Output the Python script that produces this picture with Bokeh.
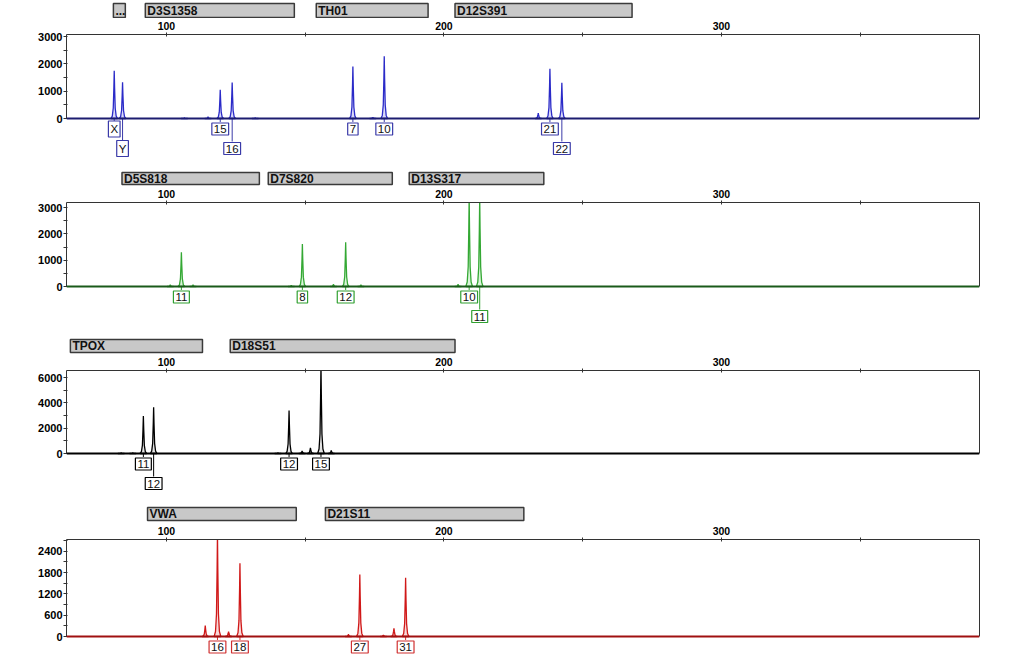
from bokeh.plotting import figure
from bokeh.layouts import column
from bokeh.models import Range1d, FixedTicker, LinearAxis, Span
from bokeh.core.properties import value
from bokeh.embed import file_html
from bokeh.resources import INLINE

# ---------------- data ----------------
X_START, X_END = 64, 393
size_ticks = [100, 200, 300]
size_minor_ticks = [150, 250, 350]

# Panel 1 (blue dye)
p1_loci = ["...", "D3S1358", "TH01", "D12S391"]
p1_loci_start = [80.9, 92.4, 154.0, 204.0]
p1_loci_end = [85.2, 146.1, 194.3, 267.8]
p1_peak_bp = [81.2, 84.2, 106.5, 115.0, 119.4, 123.7, 132.0, 167.2, 174.4, 178.5, 234.0, 238.2, 242.5]
p1_peak_rfu = [1750, 1330, 30, 60, 1050, 1320, 30, 1905, 40, 2275, 200, 1820, 1305]
p1_allele = ["X", "Y", "15", "16", "7", "10", "21", "22"]
p1_allele_bp = [81.2, 84.2, 119.4, 123.7, 167.2, 178.5, 238.2, 242.5]
p1_allele_row = [1, 2, 1, 2, 1, 1, 1, 2]
p1_yticks = [0, 1000, 2000, 3000]
p1_yminor = [500, 1500, 2500]
p1_ymax = 3074

# Panel 2 (green dye)
p2_loci = ["D5S818", "D7S820", "D13S317"]
p2_loci_start = [84.0, 136.7, 187.5]
p2_loci_end = [133.5, 181.4, 236.0]
p2_peak_bp = [101.4, 105.4, 109.6, 145.0, 149.0, 160.2, 164.6, 170.1, 205.1, 209.1, 212.9]
p2_peak_rfu = [60, 1300, 60, 40, 1615, 80, 1680, 60, 80, 3400, 3350]
p2_allele = ["11", "8", "12", "10", "11"]
p2_allele_bp = [105.4, 149.0, 164.6, 209.1, 212.9]
p2_allele_row = [1, 1, 1, 1, 2]
p2_yticks = [0, 1000, 2000, 3000]
p2_yminor = [500, 1500, 2500]
p2_ymax = 3190

# Panel 3 (black dye)
p3_loci = ["TPOX", "D18S51"]
p3_loci_start = [65.4, 123.0]
p3_loci_end = [113.0, 204.0]
p3_peak_bp = [83.7, 87.9, 91.7, 95.4, 140.2, 144.2, 148.9, 151.9, 155.7, 159.4]
p3_peak_rfu = [60, 60, 2950, 3660, 60, 3400, 200, 450, 7000, 250]
p3_allele = ["11", "12", "12", "15"]
p3_allele_bp = [91.7, 95.4, 144.2, 155.7]
p3_allele_row = [1, 2, 1, 1]
p3_yticks = [0, 2000, 4000, 6000]
p3_yminor = [1000, 3000, 5000]
p3_ymax = 6553

# Panel 4 (red dye)
p4_loci = ["VWA", "D21S11"]
p4_loci_start = [93.2, 157.3]
p4_loci_end = [146.8, 228.8]
p4_peak_bp = [114.0, 118.4, 122.4, 126.5, 165.6, 169.7, 178.2, 182.0, 186.2]
p4_peak_rfu = [310, 2900, 140, 2060, 60, 1745, 40, 230, 1650]
p4_allele = ["16", "18", "27", "31"]
p4_allele_bp = [118.4, 126.5, 169.7, 186.2]
p4_allele_row = [1, 1, 1, 1]
p4_yticks = [0, 600, 1200, 1800, 2400]
p4_yminor = [300, 900, 1500, 2100, 2700]
p4_ymax = 2729

# ---------------- style / layout ----------------
W = 1010
BL, BR = 66, 31
FONT = value("Liberation Sans")
# peak outline template (relative offset in bp, relative height)
TPL_DX = [-1.2, -0.7, -0.35, -0.13, 0.0, 0.13, 0.35, 0.7, 1.2]
TPL_FY = [0.0, 0.05, 0.22, 0.65, 1.0, 0.65, 0.22, 0.05, 0.0]

panels = [
    dict(loci=p1_loci, ls=p1_loci_start, le=p1_loci_end, pb=p1_peak_bp, pr=p1_peak_rfu,
         al=p1_allele, ab=p1_allele_bp, ar=p1_allele_row, yt=p1_yticks, ym=p1_yminor, top=p1_ymax,
         hh=18, bar=(1, 15), bt=16, plot=84, lab=40, bb=12,
         line="#2b2bc8", fill="#c0c0f2", base="#1c1c70", box="#3a3aa8"),
    dict(loci=p2_loci, ls=p2_loci_start, le=p2_loci_end, pb=p2_peak_bp, pr=p2_peak_rfu,
         al=p2_allele, ab=p2_allele_bp, ar=p2_allele_row, yt=p2_yticks, ym=p2_yminor, top=p2_ymax,
         hh=16, bar=(2, 14), bt=16, plot=84, lab=40, bb=11,
         line="#34a834", fill="#c0ecc0", base="#1a5a1a", box="#30a030"),
    dict(loci=p3_loci, ls=p3_loci_start, le=p3_loci_end, pb=p3_peak_bp, pr=p3_peak_rfu,
         al=p3_allele, ab=p3_allele_bp, ar=p3_allele_row, yt=p3_yticks, ym=p3_yminor, top=p3_ymax,
         hh=17, bar=(2, 15), bt=16, plot=83, lab=40, bb=12,
         line="#000000", fill="#d0d0d0", base="#000000", box="#000000"),
    dict(loci=p4_loci, ls=p4_loci_start, le=p4_loci_end, pb=p4_peak_bp, pr=p4_peak_rfu,
         al=p4_allele, ab=p4_allele_bp, ar=p4_allele_row, yt=p4_yticks, ym=p4_yminor, top=p4_ymax,
         hh=17, bar=(2, 15), bt=17, plot=97, lab=24, bb=6,
         line="#d01818", fill="#f2c0c0", base="#a01010", box="#d03030"),
]

figs = []
for P in panels:
    xr = Range1d(X_START, X_END)
    # ---- locus header ----
    h = figure(width=W, height=P["hh"], x_range=xr, y_range=Range1d(0, P["hh"]),
               x_axis_type=None, y_axis_type=None, toolbar_location=None,
               output_backend="svg", min_border_left=BL, min_border_right=BR,
               min_border_top=0, min_border_bottom=0)
    h.outline_line_color = None
    h.grid.visible = False
    b0, b1 = P["bar"]
    h.quad(left=P["ls"], right=P["le"], bottom=b0, top=b1,
           fill_color="#c8c8c8", line_color="#3a3a3a", line_width=1.5)
    h.text(x=P["ls"], y=(b0 + b1) / 2, text=P["loci"], x_offset=2,
           text_baseline="middle", text_align="left", text_font=FONT,
           text_font_style="bold", text_font_size="12px", text_color="#111111")
    figs.append(h)

    # ---- main trace ----
    top = P["top"]
    scale = top / P["plot"]          # data units per pixel
    ymin = -P["lab"] * scale
    fh = P["bt"] + P["plot"] + P["lab"] + P["bb"]
    p = figure(width=W, height=fh, x_range=xr, y_range=Range1d(ymin, top),
               x_axis_location="above", toolbar_location=None, output_backend="svg",
               min_border_left=BL, min_border_right=BR,
               min_border_top=P["bt"], min_border_bottom=P["bb"])
    p.outline_line_color = None
    p.grid.visible = False

    xa = p.xaxis[0]
    xa.ticker = FixedTicker(ticks=size_ticks, minor_ticks=size_minor_ticks)
    xa.major_label_text_font = "Liberation Sans"
    xa.major_label_text_font_style = "bold"
    xa.major_label_text_font_size = "10.5px"
    xa.major_label_text_color = "#000000"
    xa.major_label_standoff = 3
    xa.major_tick_in = 2
    xa.major_tick_out = 2
    xa.minor_tick_in = 2
    xa.minor_tick_out = 2
    xa.axis_line_color = "#333333"
    xa.major_tick_line_color = "#333333"
    xa.minor_tick_line_color = "#333333"

    ya = p.yaxis[0]
    ya.bounds = (0, top)
    ya.ticker = FixedTicker(ticks=P["yt"], minor_ticks=P["ym"])
    ya.major_label_text_font = "Liberation Sans"
    ya.major_label_text_font_style = "bold"
    ya.major_label_text_font_size = "11px"
    ya.major_label_text_color = "#000000"
    ya.major_label_standoff = 1
    ya.major_tick_in = 1
    ya.major_tick_out = 3
    ya.minor_tick_in = 1
    ya.minor_tick_out = 3
    ya.axis_line_color = "#333333"
    ya.major_tick_line_color = "#333333"
    ya.minor_tick_line_color = "#333333"

    ra = LinearAxis(ticker=FixedTicker(ticks=[], minor_ticks=[]), bounds=(0, top),
                    axis_line_color="#333333", major_tick_line_color=None,
                    minor_tick_line_color=None, major_label_text_font_size="0px")
    p.add_layout(ra, "right")

    # baseline
    p.add_layout(Span(location=0, dimension="width", line_color=P["base"], line_width=2.2))

    # peaks
    xs = [[bp + dx for dx in TPL_DX] for bp in P["pb"]]
    ys = [[r * f for f in TPL_FY] for r in P["pr"]]
    p.patches(xs, ys, fill_color=P["fill"], fill_alpha=0.6, line_color=P["line"], line_width=1.3)

    # allele call connectors and boxes
    conn_px = {1: 3.5, 2: 23}
    center_px = {1: 10.5, 2: 30}
    p.segment(x0=P["ab"], x1=P["ab"], y0=0,
              y1=[-conn_px[r] * scale for r in P["ar"]],
              line_color=P["box"], line_width=1)
    p.text(x=P["ab"], y=[-center_px[r] * scale for r in P["ar"]], text=P["al"],
           text_align="center", text_baseline="middle", text_font=FONT,
           text_font_size="11.5px", text_color="#111111",
           background_fill_color="white", border_line_color=P["box"],
           border_line_width=1.2, padding=2)
    figs.append(p)

layout = column(*figs, spacing=0)
open("out.html", "w").write(file_html(layout, INLINE))
